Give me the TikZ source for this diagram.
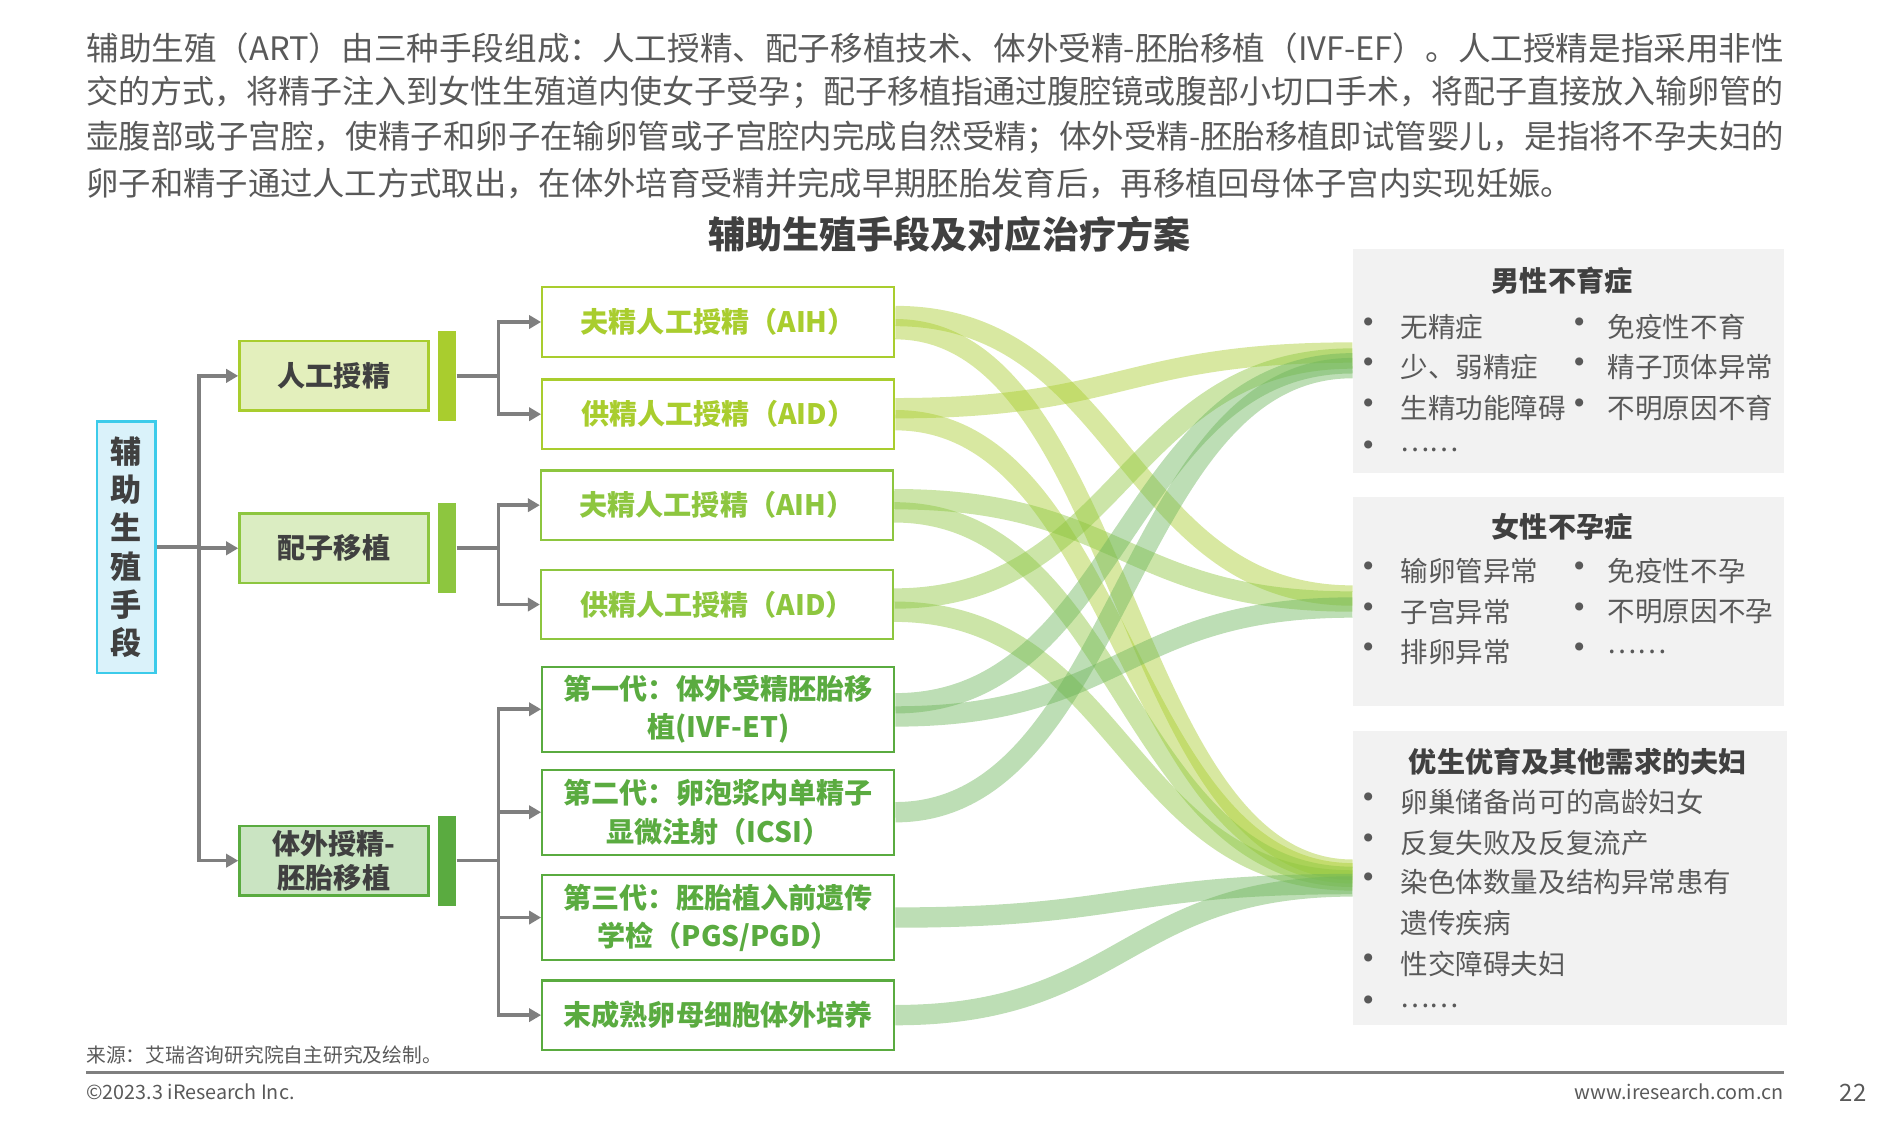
\documentclass[tikz,border=0pt]{standalone}
\usepackage{graphicx}
\usepackage{fontspec}
\setmainfont{Noto Sans CJK SC}
\usetikzlibrary{arrows.meta,positioning,backgrounds}

\definecolor{textdark}{HTML}{404040}
\definecolor{textgray}{HTML}{595959}
\definecolor{artone}{HTML}{A9CD2E}
\definecolor{arttwo}{HTML}{8DC63F}
\definecolor{artthree}{HTML}{5AAB40}
\definecolor{rootedge}{HTML}{3CCBEA}
\definecolor{rootfill}{HTML}{DAF2FA}
\definecolor{panelgray}{HTML}{F2F2F2}
\definecolor{linkgray}{HTML}{7F7F7F}
\definecolor{flowone}{HTML}{A9CD2E}
\definecolor{flowtwo}{HTML}{8DC63F}
\definecolor{flowthree}{HTML}{6DB55A}

\newcommand{\setsz}[2]{\fontsize{#1pt}{#2pt}\selectfont}
\newcommand{\fitline}[1]{\resizebox{1418pt}{\height}{#1}}
\newcommand{\bul}{\makebox[6pt]{•}}

\begin{document}
\begin{tikzpicture}[x=1pt, y=-1pt,
    root/.style={draw=rootedge, line width=2pt, fill=rootfill, minimum width=49pt, minimum height=210pt, inner sep=0pt, align=center, font=\bfseries\setsz{26}{32}, text=textdark},
    method/.style={draw=#1, line width=2pt, fill=#1!32, minimum width=158pt, minimum height=58pt, inner sep=0pt, align=center, font=\bfseries\setsz{23.5}{28}, text=textdark},
    bar/.style={fill=#1, minimum width=15pt, minimum height=75pt, inner sep=0pt},
    tech/.style={draw=#1, line width=2pt, fill=white, minimum width=294pt, minimum height=58pt, inner sep=0pt, align=center, font=\bfseries\setsz{23.5}{32}, text=#1},
    panel/.style={fill=panelgray, inner sep=0pt},
    head/.style={font=\bfseries\setsz{23.5}{28}, text=textdark, inner sep=0pt},
    item/.style={anchor=west, font=\setsz{23}{28}, text=textgray, inner sep=0pt},
    dot/.style={font=\setsz{32}{34}, text=textgray, inner sep=0pt},
    para/.style={anchor=west, font=\setsz{27}{32}, text=textgray, inner sep=0pt},
    foot/.style={font=\setsz{16.5}{20}, text=textgray, inner sep=0pt},
    link/.style={draw=linkgray, line width=3pt},
    arrow/.style={link, -{Triangle[length=10pt,width=11pt]}},
    flow/.style={draw=#1, line width=17pt, opacity=0.45},
  ]
    \useasboundingbox (0,0) rectangle (1568,942);

    % Intro text
    \node[para] (p1) at (72,40) {\fitline{辅助生殖（ART）由三种手段组成：人工授精、配子移植技术、体外受精-胚胎移植（IVF-EF）。人工授精是指采用非性}};
    \node[para] (p2) at (72,77) {\fitline{交的方式，将精子注入到女性生殖道内使女子受孕；配子移植指通过腹腔镜或腹部小切口手术，将配子直接放入输卵管的}};
    \node[para] (p3) at (72,115) {\fitline{壶腹部或子宫腔，使精子和卵子在输卵管或子宫腔内完成自然受精；体外受精-胚胎移植即试管婴儿，是指将不孕夫妇的}};
    \node[para] (p4) at (72,153) {卵子和精子通过人工方式取出，在体外培育受精并完成早期胚胎发育后，再移植回母体子宫内实现妊娠。};
    \node[font=\bfseries\setsz{31}{36}, text=textdark, inner sep=0pt] (title) at (793,196) {辅助生殖手段及对应治疗方案};

    % Nodes
    \node[root] (root) at (105.5,457) {辅\\助\\生\\殖\\手\\段};
    \node[method=artone] (art) at (279,314) {人工授精};
    \node[method=arttwo] (gam) at (279,458) {配子移植};
    \node[method=artthree] (ivf) at (279,719) {体外授精-\\胚胎移植};
    \node[bar=artone, right=7pt of art] (barA) {};
    \node[bar=arttwo, right=7pt of gam] (barB) {};
    \node[bar=artthree, right=7pt of ivf] (barC) {};

    \node[tech=artone] (a1) at (600,269) {夫精人工授精（AIH）};
    \node[tech=artone, below=17pt of a1] (d1) {供精人工授精（AID）};
    \node[tech=arttwo] (a2) at (599,422) {夫精人工授精（AIH）};
    \node[tech=arttwo, below=23pt of a2] (d2) {供精人工授精（AID）};
    \node[tech=artthree, minimum height=71pt] (g1) at (600,592.5) {第一代：体外受精胚胎移\\植(IVF-ET)};
    \node[tech=artthree, minimum height=71pt, below=13pt of g1] (g2) {第二代：卵泡浆内单精子\\显微注射（ICSI）};
    \node[tech=artthree, minimum height=71pt, below=15pt of g2] (g3) {第三代：胚胎植入前遗传\\学检（PGS/PGD）};
    \node[tech=artthree, below=15pt of g3] (g4) {末成熟卵母细胞体外培养};

    % Tree links
    \coordinate (jr) at ([xshift=35pt]root.east);
    \draw[link] (root.east) -- (jr);
    \draw[arrow] (jr) |- (art.west);
    \draw[arrow] (jr) |- (gam.west);
    \draw[arrow] (jr) |- (ivf.west);

    \coordinate (jA) at ([xshift=35pt]barA.east);
    \draw[link] (barA.east) -- (jA);
    \draw[arrow] (jA) |- (a1.west);
    \draw[arrow] (jA) |- (d1.west);

    \coordinate (jB) at ([xshift=35pt]barB.east);
    \draw[link] (barB.east) -- (jB);
    \draw[arrow] (jB) |- (a2.west);
    \draw[arrow] (jB) |- (d2.west);

    \coordinate (jC) at ([xshift=35pt]barC.east);
    \draw[link] (barC.east) -- (jC);
    \foreach \t in {g1,g2,g3,g4}
      \draw[arrow] (jC) |- (\t.west);

    % Target panels
    \node[panel, minimum width=360pt, minimum height=187pt] (male) at (1310,301.5) {};
    \node[panel, minimum width=360pt, minimum height=175pt] (female) at (1310,502.5) {};
    \node[panel, minimum width=363pt, minimum height=245pt] (couple) at (1311.5,733.5) {};

    \node[head] (mhead) at (1305,234) {男性不育症};
    \foreach \y in {273,307,341,376}
      \node[dot] (md\y) at (1143,\y) {\bul};
    \foreach \y in {273,307,341}
      \node[dot] (mr\y) at (1320,\y) {\bul};
    \node[item] (m1) at (1170,273) {无精症};
    \node[item] (m2) at (1170,307) {少、弱精症};
    \node[item] (m3) at (1170,341) {生精功能障碍};
    \node[item] (m4) at (1170,376) {……};
    \node[item] (m5) at (1343,273) {免疫性不育};
    \node[item] (m6) at (1343,307) {精子顶体异常};
    \node[item] (m7) at (1343,341) {不明原因不育};

    \node[head] (fhead) at (1305,440) {女性不孕症};
    \foreach \y in {477,511,545} {
      \node[dot] (fd\y) at (1143,\y) {\bul};
      \node[dot] (fr\y) at (1320,\y) {\bul};
    }
    \node[item] (f1) at (1170,477) {输卵管异常};
    \node[item] (f2) at (1170,511) {子宫异常};
    \node[item] (f3) at (1170,545) {排卵异常};
    \node[item] (f4) at (1343,477) {免疫性不孕};
    \node[item] (f5) at (1343,511) {不明原因不孕};
    \node[item] (f6) at (1343,545) {……};

    \node[head] (chead) at (1318,636) {优生优育及其他需求的夫妇};
    \foreach \y in {670,704,737,805,840}
      \node[dot] (cd\y) at (1143,\y) {\bul};
    \node[item] (c1) at (1170,670) {卵巢储备尚可的高龄妇女};
    \node[item] (c2) at (1170,704) {反复失败及反复流产};
    \node[item] (c3) at (1170,737) {染色体数量及结构异常患有};
    \node[item] (c4) at (1170,771) {遗传疾病};
    \node[item] (c5) at (1170,805) {性交障碍夫妇};
    \node[item] (c6) at (1170,840) {……};

    % Flows
    \begin{scope}[on background layer]
      \foreach \src/\sy/\dst/\ty/\col in {
          a1/5/female/5/flowone, a1/-6/couple/7/flowone,
          d1/5/male/7/flowone, d1/-5/couple/4/flowone,
          a2/5/female/0/flowtwo, a2/-6/couple/1/flowtwo,
          d2/5/male/2/flowtwo, d2/-6/couple/-2/flowtwo,
          g1/5/male/-2/flowthree, g1/-6/female/-5/flowthree,
          g2/0/male/-6/flowthree,
          g3/0/couple/-5/flowthree,
          g4/0/couple/-7/flowthree}
        \draw[flow=\col] ([yshift=\sy pt]\src.east) .. controls +(190,0) and +(-190,0) .. ([yshift=\ty pt]\dst.west);
    \end{scope}

    % Footer
    \node[foot, anchor=west] (src) at (72,881) {来源：艾瑞咨询研究院自主研究及绘制。};
    \coordinate (fl) at (72,896);
    \coordinate (fr) at (1490,896);
    \draw[draw=linkgray, line width=2pt] (fl) -- (fr);
    \node[foot, anchor=west] (copy) at (72,912) {©2023.3 iResearch Inc.};
    \node[foot, anchor=east] (web) at (1490,912) {www.iresearch.com.cn};
    \node[foot, font=\setsz{20}{24}] (page) at (1548,913) {22};
  \end{tikzpicture}
\end{document}
